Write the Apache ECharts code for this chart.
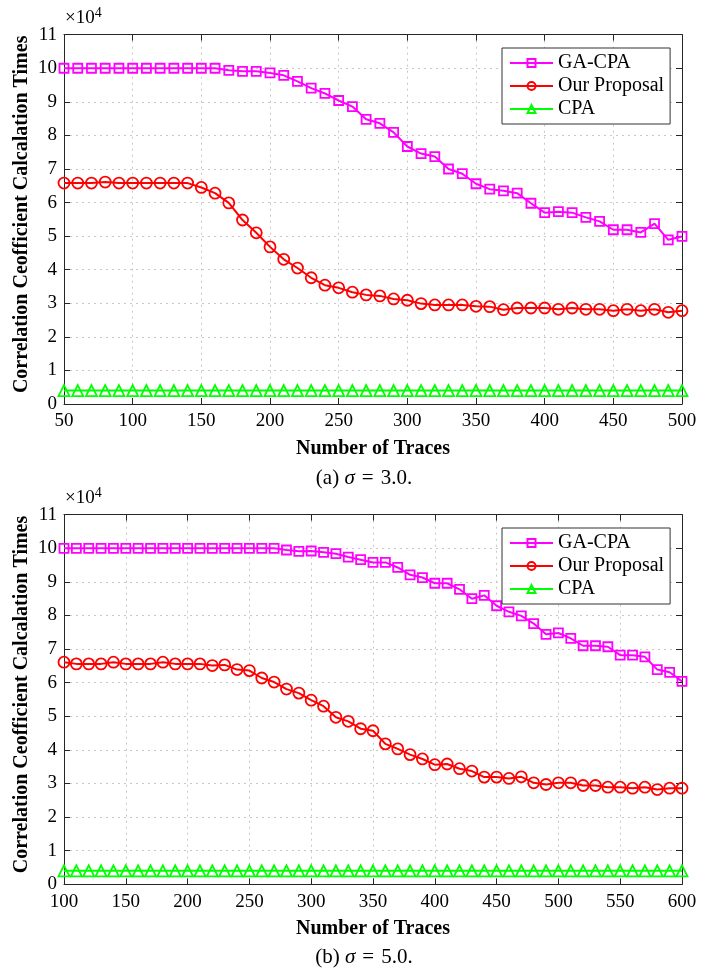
<!DOCTYPE html>
<html>
<head>
<meta charset="utf-8">
<script src="https://cdn.jsdelivr.net/npm/echarts@6/dist/echarts.min.js"></script>
<style>html,body{margin:0;padding:0;background:#fff;}#c{width:724px;height:973px;}</style>
</head>
<body>
<div id="c"></div>
<script>
// ---- data (values in units of 10^4) ----
var topX = [50,60,70,80,90,100,110,120,130,140,150,160,170,180,190,200,210,220,230,240,250,260,270,280,290,300,310,320,330,340,350,360,370,380,390,400,410,420,430,440,450,460,470,480,490,500];
var topGA = [10.0,10.0,10.0,10.0,10.0,10.0,10.0,10.0,10.0,10.0,10.0,10.0,9.94,9.91,9.91,9.86,9.79,9.61,9.41,9.25,9.04,8.86,8.48,8.36,8.09,7.67,7.46,7.37,7.0,6.86,6.56,6.40,6.35,6.28,5.98,5.70,5.73,5.70,5.56,5.44,5.19,5.19,5.11,5.37,4.89,4.99];
var topOur = [6.58,6.58,6.58,6.61,6.58,6.58,6.58,6.58,6.58,6.58,6.45,6.28,5.99,5.48,5.10,4.68,4.31,4.05,3.76,3.54,3.46,3.33,3.25,3.22,3.13,3.09,2.99,2.95,2.95,2.95,2.91,2.90,2.81,2.86,2.86,2.86,2.82,2.86,2.82,2.82,2.78,2.82,2.78,2.82,2.73,2.78];
var topCPA = [0.4,0.4,0.4,0.4,0.4,0.4,0.4,0.4,0.4,0.4,0.4,0.4,0.4,0.4,0.4,0.4,0.4,0.4,0.4,0.4,0.4,0.4,0.4,0.4,0.4,0.4,0.4,0.4,0.4,0.4,0.4,0.4,0.4,0.4,0.4,0.4,0.4,0.4,0.4,0.4,0.4,0.4,0.4,0.4,0.4,0.4];

var botX = [100,110,120,130,140,150,160,170,180,190,200,210,220,230,240,250,260,270,280,290,300,310,320,330,340,350,360,370,380,390,400,410,420,430,440,450,460,470,480,490,500,510,520,530,540,550,560,570,580,590,600];
var botGA = [10.0,10.0,10.0,10.0,10.0,10.0,10.0,10.0,10.0,10.0,10.0,10.0,10.0,10.0,10.0,10.0,10.0,10.0,9.95,9.91,9.92,9.88,9.84,9.74,9.66,9.58,9.58,9.43,9.21,9.13,8.96,8.96,8.78,8.50,8.60,8.29,8.11,7.99,7.76,7.44,7.48,7.32,7.10,7.10,7.07,6.82,6.82,6.77,6.39,6.31,6.04];
var botOur = [6.61,6.56,6.56,6.56,6.61,6.56,6.56,6.56,6.61,6.56,6.56,6.56,6.51,6.53,6.39,6.36,6.14,6.02,5.81,5.69,5.48,5.30,4.97,4.85,4.63,4.57,4.18,4.03,3.86,3.73,3.56,3.58,3.44,3.37,3.19,3.19,3.15,3.20,3.02,2.97,3.02,3.02,2.94,2.94,2.89,2.89,2.86,2.89,2.82,2.86,2.86];
var botCPA = [0.4,0.4,0.4,0.4,0.4,0.4,0.4,0.4,0.4,0.4,0.4,0.4,0.4,0.4,0.4,0.4,0.4,0.4,0.4,0.4,0.4,0.4,0.4,0.4,0.4,0.4,0.4,0.4,0.4,0.4,0.4,0.4,0.4,0.4,0.4,0.4,0.4,0.4,0.4,0.4,0.4,0.4,0.4,0.4,0.4,0.4,0.4,0.4,0.4,0.4,0.4];

var seriesNames = ['GA-CPA','Our Proposal','CPA'];
var yTicks = [0,1,2,3,4,5,6,7,8,9,10,11];
var yLabel = 'Correlation Ceofficient Calcalation Times';
var xLabel = 'Number of Traces';

// ---- styling ----
var FONT = '"Liberation Serif","DejaVu Serif",serif';
var colors = ['#FF00FF','#FF0000','#00FF00'];
var symbols = ['rect','circle','triangle'];
var symSizes = [9,11,11];

function pairs(xs, ys){ return xs.map(function(x,i){ return [x, ys[i]]; }); }

var grids = [
  {left:64, width:618, top:34.7, height:369.3},
  {left:64, width:618, top:514.7, height:369.6}
];
var xRanges = [[50,500],[100,600]];

var xAxes = [], yAxes = [];
grids.forEach(function(g, gi){
  xAxes.push({
    type:'value', gridIndex:gi, min:xRanges[gi][0], max:xRanges[gi][1], interval:50,
    axisLine:{show:true, onZero:false, lineStyle:{color:'#262626', width:1}},
    axisTick:{show:true, inside:true, length:6, lineStyle:{color:'#262626'}},
    axisLabel:{color:'#000', fontFamily:FONT, fontSize:19, margin:8},
    splitLine:{show:true, lineStyle:{type:[2,4], color:'#c8c8c8', width:1}}
  });
  xAxes.push({
    type:'value', gridIndex:gi, position:'top', min:xRanges[gi][0], max:xRanges[gi][1], interval:50,
    axisLine:{show:true, onZero:false, lineStyle:{color:'#262626', width:1}},
    axisTick:{show:true, inside:true, length:6, lineStyle:{color:'#262626'}},
    axisLabel:{show:false}, splitLine:{show:false}
  });
  yAxes.push({
    type:'value', gridIndex:gi, min:yTicks[0], max:yTicks[yTicks.length-1], interval:1,
    axisLine:{show:true, onZero:false, lineStyle:{color:'#262626', width:1}},
    axisTick:{show:true, inside:true, length:6, lineStyle:{color:'#262626'}},
    axisLabel:{color:'#000', fontFamily:FONT, fontSize:19, margin:7},
    splitLine:{show:true, lineStyle:{type:[2,4], color:'#c8c8c8', width:1}}
  });
  yAxes.push({
    type:'value', gridIndex:gi, position:'right', min:yTicks[0], max:yTicks[yTicks.length-1], interval:1,
    axisLine:{show:true, onZero:false, lineStyle:{color:'#262626', width:1}},
    axisTick:{show:true, inside:true, length:6, lineStyle:{color:'#262626'}},
    axisLabel:{show:false}, splitLine:{show:false}
  });
});

var dataSets = [[pairs(topX, topGA), pairs(topX, topOur), pairs(topX, topCPA)],
                [pairs(botX, botGA), pairs(botX, botOur), pairs(botX, botCPA)]];
var series = [];
[0,1].forEach(function(gi){
  [0,1,2].forEach(function(si){
    series.push({
      type:'line', name:seriesNames[si], xAxisIndex:gi*2, yAxisIndex:gi*2,
      data:dataSets[gi][si], symbol:symbols[si], symbolSize:symSizes[si],
      showAllSymbol:true, animation:false, z: 3 - si,
      lineStyle:{color:colors[si], width:2},
      itemStyle:{color:'rgba(255,255,255,0)', borderColor:colors[si], borderWidth:1.8}
    });
  });
});

function legend(top){
  return {
    orient:'vertical', left:502, top:top, data:seriesNames,
    backgroundColor:'#fff', borderColor:'#333', borderWidth:1,
    padding:[5,6,5,7], itemGap:3, itemWidth:43, itemHeight:10,
    textStyle:{color:'#000', fontFamily:FONT, fontSize:20, lineHeight:20}
  };
}

function caption(letter, val, y){
  return {
    type:'text', x:364, y:y, z:10,
    style:{
      text:'{n|(' + letter + ') }{i|σ}{e|=}{n|' + val + '.}',
      textAlign:'center', textVerticalAlign:'middle',
      rich:{ n:{fontFamily:FONT, fontSize:21, fill:'#000'},
             i:{fontFamily:FONT, fontStyle:'italic', fontSize:21, fill:'#000'},
             e:{fontFamily:FONT, fontSize:21, fill:'#000', padding:[0,7,0,7]} }
    }
  };
}

var graphics = [];
grids.forEach(function(g, gi){
  var cy = g.top + g.height/2 - 5;
  graphics.push({
    type:'text', x:22, y:cy, rotation:Math.PI/2, z:10,
    style:{text:yLabel, fontFamily:FONT, fontWeight:'bold', fontSize:20, fill:'#000', textAlign:'center', textVerticalAlign:'middle'}
  });
  graphics.push({
    type:'text', x:g.left + g.width/2, y:g.top + g.height + 45, z:10,
    style:{text:xLabel, fontFamily:FONT, fontWeight:'bold', fontSize:20, fill:'#000', textAlign:'center', textVerticalAlign:'middle'}
  });
  graphics.push({
    type:'text', x:g.left + 1, y:g.top - 5, z:10,
    style:{text:'{a|×10}{b|4}', textVerticalAlign:'bottom',
      rich:{a:{fontFamily:FONT, fontSize:19, fill:'#000'}, b:{fontFamily:FONT, fontSize:14, fill:'#000', verticalAlign:'top', padding:[0,0,9,0]}}}
  });
});
graphics.push(caption('a','3.0', 478));
graphics.push(caption('b','5.0', 957));

var chart = echarts.init(document.getElementById('c'), null, {renderer:'canvas'});
chart.setOption({
  animation:false,
  backgroundColor:'#fff',
  grid:grids,
  xAxis:xAxes,
  yAxis:yAxes,
  legend:[legend(48), legend(528)],
  graphic:graphics,
  series:series
});
</script>
</body>
</html>
